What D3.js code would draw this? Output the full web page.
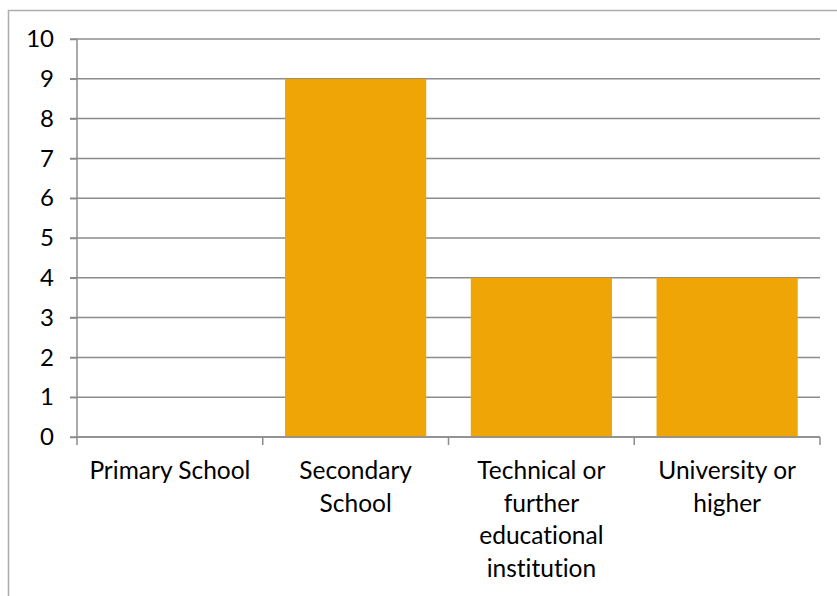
<!DOCTYPE html>
<html>
<head>
<meta charset="utf-8">
<script src="https://cdn.jsdelivr.net/npm/d3@7"></script>
<style>
  body { margin: 0; background: #fff; }
  svg { display: block; font-family: Lato, "Open Sans", sans-serif; font-variant-ligatures: none; }
</style>
</head>
<body>
<div id="chart"></div>
<script>
var categories = ["Primary School", "Secondary School", "Technical or further educational institution", "University or higher"];
var counts = [0, 9, 4, 4];
// how the labels wrap under each bar
var tickLabels = [
    ["Primary School"],
    ["Secondary", "School"],
    ["Technical or", "further", "educational", "institution"],
    ["University or", "higher"]
];
var yTicks = [0, 1, 2, 3, 4, 5, 6, 7, 8, 9, 10];

var W = 837, H = 596;
var margin = {top: 39, right: 17, bottom: 159, left: 77};
var width = W - margin.left - margin.right;
var height = H - margin.top - margin.bottom;

var svg = d3.select("#chart").append("svg")
    .attr("width", W)
    .attr("height", H);

// outer chart frame (extends past the picture on right/bottom)
svg.append("rect")
    .attr("x", 8.5)
    .attr("y", 10.5)
    .attr("width", W + 20)
    .attr("height", H + 20)
    .attr("fill", "none")
    .attr("stroke", "#adadad")
    .attr("stroke-width", 1.5);

var g = svg.append("g")
    .attr("transform", "translate(" + margin.left + "," + margin.top + ")");

var x = d3.scaleBand()
    .domain(categories)
    .range([0, width])
    .paddingInner(0.24)
    .paddingOuter(0.12);

var y = d3.scaleLinear()
    .domain([0, 10])
    .range([height, 0]);

// gridlines
g.append("g")
    .attr("class", "grid")
    .selectAll("line")
    .data(yTicks)
    .enter().append("line")
    .attr("x1", -7)
    .attr("x2", width)
    .attr("y1", function(d){ return y(d); })
    .attr("y2", function(d){ return y(d); })
    .attr("stroke", "#8c8c8c")
    .attr("stroke-width", 1.5);

// bars
g.selectAll(".bar")
    .data(counts)
    .enter().append("rect")
    .attr("class", "bar")
    .attr("x", function(d, i){ return x(categories[i]); })
    .attr("y", function(d){ return y(d); })
    .attr("width", x.bandwidth())
    .attr("height", function(d){ return height - y(d); })
    .attr("fill", "#eea505");

// y axis
var yAxis = d3.axisLeft(y)
    .tickValues(yTicks)
    .tickSize(7)
    .tickPadding(16);

var yg = g.append("g").call(yAxis);
yg.select(".domain").attr("stroke", "#8c8c8c").attr("stroke-width", 1.5)
    .attr("d", "M0," + height + "V0");
yg.selectAll(".tick line").attr("stroke", "#8c8c8c").attr("stroke-width", 1.5);
yg.selectAll(".tick text")
    .attr("font-size", 24)
    .attr("fill", "#000")
    .attr("font-family", "Lato, sans-serif");

// x axis baseline and category separators
g.append("line")
    .attr("x1", 0).attr("x2", width)
    .attr("y1", height).attr("y2", height)
    .attr("stroke", "#8c8c8c")
    .attr("stroke-width", 1.5);

var step = x.step();
g.selectAll(".sep")
    .data(d3.range(categories.length + 1))
    .enter().append("line")
    .attr("class", "sep")
    .attr("x1", function(d){ return Math.min(d * step, width); })
    .attr("x2", function(d){ return Math.min(d * step, width); })
    .attr("y1", height)
    .attr("y2", height + 8)
    .attr("stroke", "#8c8c8c")
    .attr("stroke-width", 1.5);

// category labels
var labels = g.selectAll(".cat")
    .data(categories)
    .enter().append("text")
    .attr("class", "cat")
    .attr("text-anchor", "middle")
    .attr("font-size", 24.5)
    .attr("fill", "#000")
    .attr("transform", function(d){
        return "translate(" + (x(d) + x.bandwidth() / 2) + "," + (height + 42) + ")";
    });

labels.selectAll("tspan")
    .data(function(d, i){ return tickLabels[i]; })
    .enter().append("tspan")
    .attr("x", 0)
    .attr("y", function(d, i){ return i * 32.7; })
    .text(function(d){ return d; });
</script>
</body>
</html>
